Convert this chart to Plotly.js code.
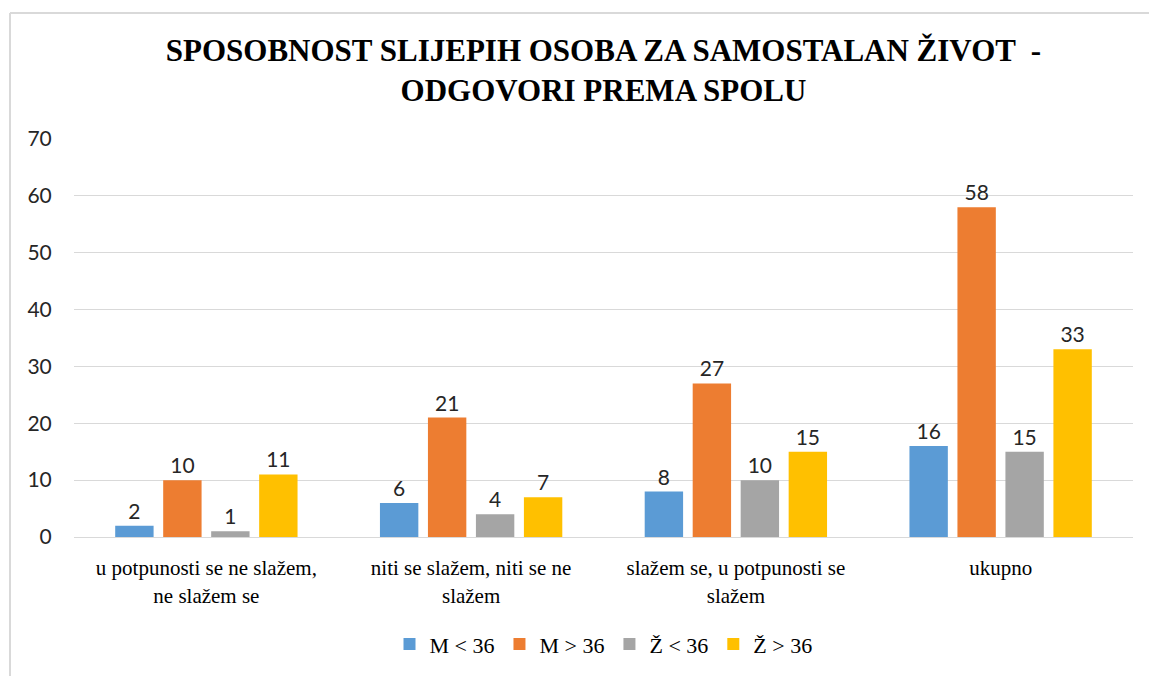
<!DOCTYPE html>
<html>
<head>
<meta charset="utf-8">
<script src="https://cdn.plot.ly/plotly-3.0.1.min.js"></script>
<style>html,body{margin:0;padding:0;background:#fff;}#chart{width:1149px;height:677px;}</style>
</head>
<body>
<div id="chart"></div>
<script>
const categories = [
  "u potpunosti se ne slažem,<br>ne slažem se",
  "niti se slažem, niti se ne<br>slažem",
  "slažem se, u potpunosti se<br>slažem",
  "ukupno"
];
const seriesNames = ["M < 36", "M > 36", "Ž < 36", "Ž > 36"];
const mUnder36 = [2, 6, 8, 16];
const mOver36 = [10, 21, 27, 58];
const zUnder36 = [1, 4, 10, 15];
const zOver36 = [11, 7, 15, 33];
const colors = ["#5B9BD5", "#ED7D31", "#A5A5A5", "#FFC000"];
const seriesValues = [mUnder36, mOver36, zUnder36, zOver36];

const SERIF = "Liberation Serif";
const SANS = "Lato";

const traces = seriesValues.map((vals, i) => ({
  type: "bar",
  name: seriesNames[i],
  x: categories,
  y: vals,
  text: vals.map(v => String(v)),
  textposition: "outside",
  cliponaxis: false,
  textfont: {family: SANS, size: 21, color: "#262626"},
  marker: {color: colors[i]},
  hoverinfo: "skip"
}));

const L = 74, R = 16, T = 139, B = 137;
const plotW = 1149 - L - R, plotH = 677 - T - B;
const px = p => (p - L) / plotW;
const py = p => (677 - B - p) / plotH;

const layout = {
  width: 1149, height: 677,
  margin: {l: L, r: R, t: T, b: B},
  paper_bgcolor: "#fff", plot_bgcolor: "#fff",
  barmode: "group",
  bargap: 0.275,
  bargroupgap: 0.2,
  title: {
    text: "<b>SPOSOBNOST SLIJEPIH OSOBA ZA SAMOSTALAN ŽIVOT  -<br>ODGOVORI PREMA SPOLU</b>",
    font: {family: SERIF, size: 31, color: "#000"},
    x: 0.5, xref: "paper", xanchor: "center",
    y: 1 - 61/677, yref: "container", yanchor: "top"
  },
  yaxis: {
    range: [0, 70],
    dtick: 10,
    showgrid: true,
    gridcolor: "#D9D9D9",
    gridwidth: 1,
    zeroline: false,
    showline: false,
    ticks: "outside",
    ticklen: 17,
    tickcolor: "rgba(0,0,0,0)",
    tickfont: {family: SANS, size: 21, color: "#262626"},
    fixedrange: true
  },
  xaxis: {
    showline: true,
    linecolor: "#D9D9D9",
    linewidth: 1,
    ticks: "outside",
    ticklen: 12,
    tickcolor: "rgba(0,0,0,0)",
    tickfont: {family: SERIF, size: 21, color: "#000"},
    fixedrange: true
  },
  showlegend: true,
  legend: {
    orientation: "h",
    x: 0.5, xanchor: "center",
    y: py(648), yanchor: "middle",
    font: {family: SERIF, size: 22, color: "#000"},
    itemwidth: 30,
    traceorder: "normal"
  },
  shapes: [
    {type: "line", xref: "paper", yref: "paper", x0: px(10), x1: px(10), y0: py(12), y1: py(680), line: {color: "#D9D9D9", width: 2}},
    {type: "line", xref: "paper", yref: "paper", x0: px(10), x1: px(1152), y0: py(12), y1: py(12), line: {color: "#D9D9D9", width: 2}}
  ]
};

Plotly.newPlot("chart", traces, layout, {displayModeBar: false, staticPlot: true});
</script>
</body>
</html>
